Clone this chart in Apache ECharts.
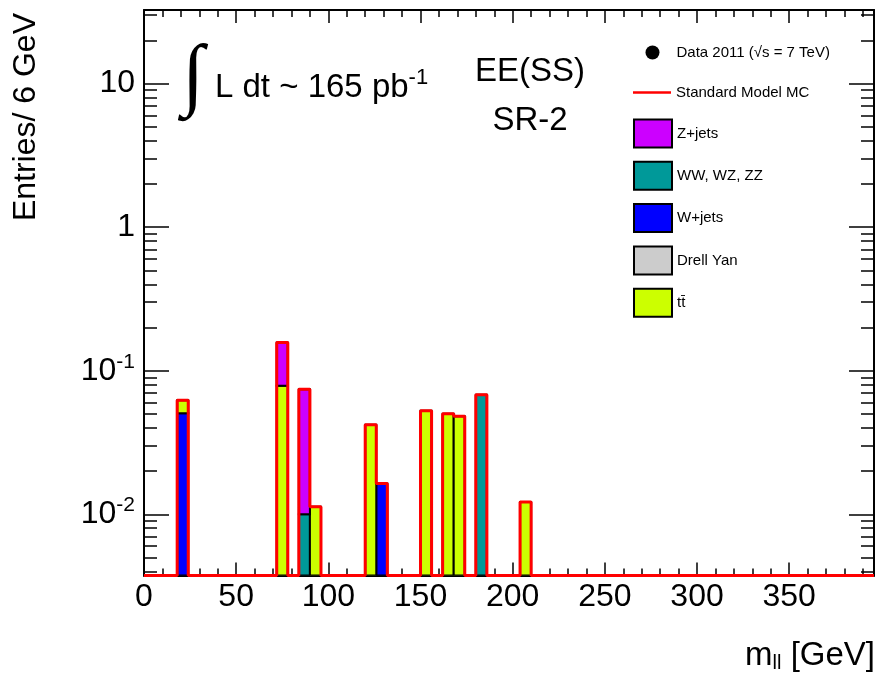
<!DOCTYPE html>
<html>
<head>
<meta charset="utf-8">
<title>m_ll EE(SS) SR-2</title>
<script src="https://cdn.jsdelivr.net/npm/echarts@6/dist/echarts.min.js"></script>
<style>
  body { margin: 0; background: #fff; }
  #chart { width: 878px; height: 679px; }
</style>
</head>
<body>
<div id="chart"></div>
<script>
// 6 GeV bins, only the filled ones are listed (lower edge, GeV)
const binLow   = [18, 72, 84, 90, 120, 126, 150, 162, 168, 180, 204]
const wJets    = [0.0505, 0, 0, 0, 0, 0.0164, 0, 0, 0, 0, 0]
const diboson  = [0, 0, 0.0100, 0, 0, 0, 0, 0, 0, 0.0680, 0]
const ttbar    = [0.0117, 0.0787, 0, 0.0113, 0.0420, 0, 0.0526, 0.0502, 0.0481, 0, 0.0122]
const drellYan = [0, 0, 0, 0, 0, 0, 0, 0, 0, 0, 0]
const zJets    = [0, 0.0783, 0.0642, 0, 0, 0, 0, 0, 0, 0, 0]

const xTicks = [0, 50, 100, 150, 200, 250, 300, 350]
const yTicks = [0.01, 0.1, 1, 10]

const BIN = 6
const X_MAX = 396
const Y_MIN = 0.00375
const Y_MAX = 32.5
const FONT = 'Liberation Sans'
const DATA_NAME = 'Data 2011 (\u221As = 7 TeV)'
const TT_NAME = 'tt\u0304'

// stacking order, bottom first
const components = [
  {name: 'W+jets', values: wJets, color: '#0000ff'},
  {name: 'WW, WZ, ZZ', values: diboson, color: '#009999'},
  {name: TT_NAME, values: ttbar, color: '#ccff00'},
  {name: 'Drell Yan', values: drellYan, color: '#cccccc'},
  {name: 'Z+jets', values: zJets, color: '#cc00ff'}
]

// minor ticks (no labels)
const xMinor = []
for (let x = 10; x < X_MAX; x += 10) if (x % 50) xMinor.push(x)
const yMinor = []
for (let e = -3; e <= 1; e++) {
  for (let k = 2; k <= 9; k++) {
    const v = k * Math.pow(10, e)
    if (v > Y_MIN && v < Y_MAX) yMinor.push(+v.toPrecision(3))
  }
}

function renderBin(params, api) {
  const lo = api.value(2) > 0 ? api.value(2) : Y_MIN
  const a = api.coord([api.value(0), lo])
  const b = api.coord([api.value(1), api.value(3)])
  return {
    type: 'rect',
    shape: {x: a[0], y: b[1], width: b[0] - a[0], height: a[1] - b[1]},
    style: api.style()
  }
}

let stackTop = binLow.map(() => 0)
let seriesList = components.map(c => {
  const data = []
  binLow.forEach((x, i) => {
    const lo = stackTop[i]
    const hi = lo + c.values[i]
    stackTop[i] = hi
    if (c.values[i] > 0) data.push([x, x + BIN, lo, hi])
  })
  return {
    name: c.name,
    type: 'custom',
    renderItem: renderBin,
    encode: {x: [0, 1], y: [2, 3]},
    itemStyle: {color: c.color, borderColor: '#000', borderWidth: 2},
    clip: true,
    z: 2,
    data: data
  }
})

// total outline as a step line over all bins
const totalLine = []
for (let x = 0; x < X_MAX; x += BIN) {
  const k = binLow.indexOf(x)
  const v = k >= 0 ? stackTop[k] : 0
  totalLine.push([x, v > 0 ? v : Y_MIN])
}
totalLine.push([X_MAX, totalLine[totalLine.length - 1][1]])

seriesList.push({
  name: 'Standard Model MC',
  type: 'line',
  step: 'end',
  symbol: 'none',
  clip: false,
  z: 5,
  lineStyle: {color: '#ff0000', width: 3},
  itemStyle: {color: '#ff0000'},
  data: totalLine
})
seriesList.push({
  name: DATA_NAME,
  type: 'scatter',
  itemStyle: {color: '#000', opacity: 1},
  data: []
})

const grid = {left: 144, top: 10, width: 730, height: 565.5}

function xAxisCfg(gridIndex, pos, ticks, len, labels) {
  return {
    type: 'value', gridIndex: gridIndex, position: pos, min: 0, max: X_MAX,
    axisLine: {show: gridIndex === 0, onZero: false, lineStyle: {color: '#000', width: 2}},
    axisTick: {show: true, inside: true, length: len, customValues: ticks, lineStyle: {color: '#000', width: 1.5}},
    axisLabel: labels ? {
      show: true, customValues: xTicks, margin: 6, color: '#000', fontFamily: FONT, fontSize: 32
    } : {show: false},
    splitLine: {show: false}
  }
}

function yAxisCfg(gridIndex, pos, ticks, len, labels) {
  return {
    type: 'log', gridIndex: gridIndex, position: pos, min: Y_MIN, max: Y_MAX,
    axisLine: {show: gridIndex === 0, onZero: false, lineStyle: {color: '#000', width: 2}},
    axisTick: {show: true, inside: true, length: len, customValues: ticks, lineStyle: {color: '#000', width: 1.5}},
    axisLabel: labels ? {
      show: true, customValues: yTicks, margin: 9, color: '#000', fontFamily: FONT, fontSize: 32,
      formatter: v => v >= 1 ? String(Math.round(v)) : '{b|10}{s|' + Math.round(Math.log10(v)) + '}',
      rich: {
        b: {fontFamily: FONT, fontSize: 32, color: '#000'},
        s: {fontFamily: FONT, fontSize: 21, color: '#000', padding: [0, 0, 18, 0]}
      }
    } : {show: false},
    splitLine: {show: false}
  }
}

const legendText = {color: '#000', fontFamily: FONT, fontSize: 15}

const option = {
  backgroundColor: '#fff',
  animation: false,
  grid: [grid, Object.assign({}, grid)],
  xAxis: [
    xAxisCfg(0, 'bottom', xTicks, 13, true),
    xAxisCfg(0, 'top', xTicks, 13, false),
    xAxisCfg(1, 'bottom', xMinor, 7, false),
    xAxisCfg(1, 'top', xMinor, 7, false)
  ],
  yAxis: [
    yAxisCfg(0, 'left', yTicks, 25, true),
    yAxisCfg(0, 'right', yTicks, 25, false),
    yAxisCfg(1, 'left', yMinor, 13, false),
    yAxisCfg(1, 'right', yMinor, 13, false)
  ],
  legend: [{
    left: 645.5, top: 45, padding: 0, itemWidth: 38, itemHeight: 14,
    selectedMode: false, textStyle: legendText,
    data: [{name: DATA_NAME, icon: 'circle'}]
  }, {
    left: 633, top: 85, padding: 0, itemWidth: 38, itemHeight: 2.5,
    selectedMode: false, textStyle: legendText, icon: 'rect',
    itemStyle: {borderWidth: 0},
    data: ['Standard Model MC']
  }, {
    orient: 'vertical', left: 633, top: 118.5, padding: 0, itemWidth: 38, itemHeight: 28, itemGap: 12.3,
    selectedMode: false, icon: 'rect',
    itemStyle: {borderColor: '#000', borderWidth: 2},
    textStyle: legendText,
    data: ['Z+jets', 'WW, WZ, ZZ', 'W+jets', 'Drell Yan', TT_NAME]
  }],
  graphic: [
    {type: 'text', x: 26, y: 13, rotation: Math.PI / 2,
      style: {text: 'Entries/ 6 GeV', font: '32px "Liberation Sans"', fill: '#000', align: 'right', verticalAlign: 'middle'}},
    {type: 'text', x: 875, y: 656,
      style: {text: '{m|m}{s|ll}{m| [GeV]}', fill: '#000', align: 'right', verticalAlign: 'middle',
        rich: {
          m: {fontFamily: FONT, fontSize: 33, color: '#000'},
          s: {fontFamily: FONT, fontSize: 20, color: '#000', padding: [15, 0, 0, 0]}
        }}},
    {type: 'text', x: 193, y: 79,
      style: {text: '\u222B', font: '80px "Liberation Serif"', fill: '#000', align: 'center', verticalAlign: 'middle'}},
    {type: 'text', x: 215, y: 88,
      style: {text: '{m|L dt ~ 165 pb}{s|-1}', fill: '#000', align: 'left', verticalAlign: 'middle',
        rich: {
          m: {fontFamily: FONT, fontSize: 33, color: '#000'},
          s: {fontFamily: FONT, fontSize: 22, color: '#000', padding: [0, 0, 20, 0]}
        }}},
    {type: 'text', x: 530, y: 72,
      style: {text: 'EE(SS)', font: '33px "Liberation Sans"', fill: '#000', align: 'center', verticalAlign: 'middle'}},
    {type: 'text', x: 530, y: 121,
      style: {text: 'SR-2', font: '33px "Liberation Sans"', fill: '#000', align: 'center', verticalAlign: 'middle'}}
  ],
  series: seriesList
}

const chart = echarts.init(document.getElementById('chart'))
chart.setOption(option)
</script>
</body>
</html>
